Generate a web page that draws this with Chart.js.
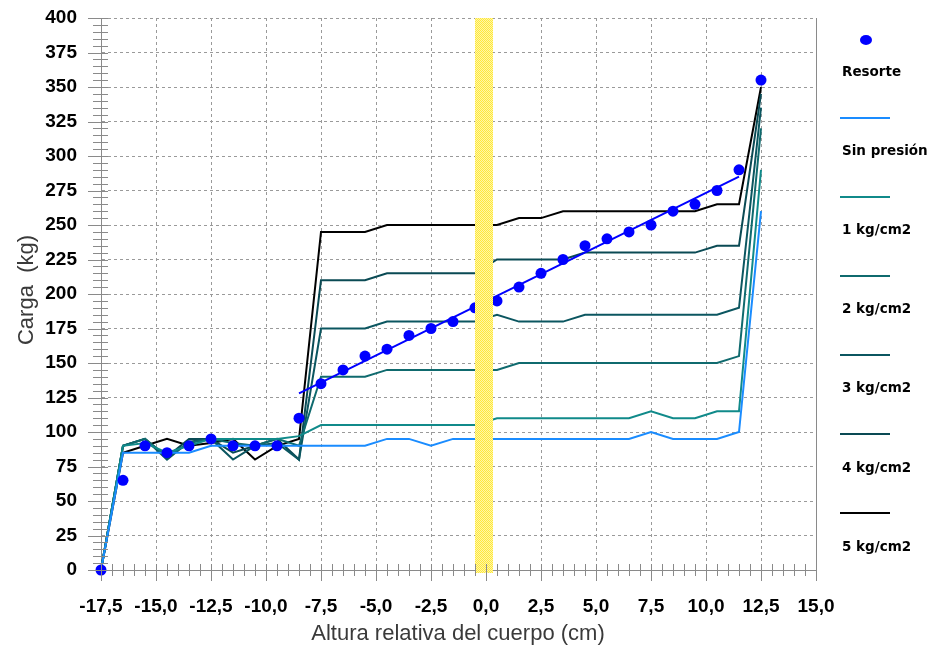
<!DOCTYPE html>
<html>
<head>
<meta charset="utf-8">
<script src="https://cdn.jsdelivr.net/npm/chart.js@4"></script>
<style>
  html, body { margin: 0; padding: 0; background: #fff; }
  #wrap { width: 935px; height: 655px; }
</style>
</head>
<body>
<div id="wrap"><canvas id="load-chart" width="935" height="655"></canvas></div>
<script>
// Altura relativa del cuerpo (cm), one reading per centimetre
const heights = [-17.5, -16.5, -15.5, -14.5, -13.5, -12.5, -11.5, -10.5, -9.5, -8.5,
    -7.5, -6.5, -5.5, -4.5, -3.5, -2.5, -1.5, -0.5, 0.5, 1.5, 2.5,
    3.5, 4.5, 5.5, 6.5, 7.5, 8.5, 9.5, 10.5, 11.5, 12.5]

// Carga (kg)
const resorte = [0, 65, 90, 85, 90, 95, 90, 90, 90, 110,
    135, 145, 155, 160, 170, 175, 180, 190, 195, 205, 215,
    225, 235, 240, 245, 250, 260, 265, 275, 290, 355]
const sinPresion = [0, 85, 85, 85, 85, 90, 90, 90, 90, 90,
    90, 90, 90, 95, 95, 90, 95, 95, 95, 95, 95,
    95, 95, 95, 95, 100, 95, 95, 95, 100, 260]
const kg1 = [0, 90, 92, 85, 90, 95, 95, 95, 95, 97,
    105, 105, 105, 105, 105, 105, 105, 105, 110, 110, 110,
    110, 110, 110, 110, 115, 110, 110, 115, 115, 290]
const kg2 = [0, 90, 95, 82, 92, 95, 92, 90, 95, 90,
    140, 140, 140, 145, 145, 145, 145, 145, 145, 150, 150,
    150, 150, 150, 150, 150, 150, 150, 150, 155, 320]
const kg3 = [0, 90, 95, 80, 93, 95, 80, 90, 92, 80,
    175, 175, 175, 180, 180, 180, 180, 180, 185, 180, 180,
    180, 185, 185, 185, 185, 185, 185, 185, 190, 335]
const kg4 = [0, 90, 95, 82, 95, 95, 85, 90, 95, 80,
    210, 210, 210, 215, 215, 215, 215, 215, 225, 225, 225,
    225, 230, 230, 230, 230, 230, 230, 235, 235, 345]
const kg5 = [0, 85, 90, 95, 90, 92, 95, 80, 90, 95,
    245, 245, 245, 250, 250, 250, 250, 250, 250, 255, 255,
    260, 260, 260, 260, 260, 260, 260, 265, 265, 350]

// straight fit through the spring readings
const fitX = [-8.5, 11.5]
const fitY = [128, 285]

// zero band on the height axis
const bandFrom = -0.5
const bandTo = 0.3

const seriesNames = ['Resorte', 'Sin presión', '1 kg/cm2', '2 kg/cm2', '3 kg/cm2', '4 kg/cm2', '5 kg/cm2']
const seriesColors = ['#0000ff', '#1a8cff', '#108a8a', '#0f6a6e', '#0b5660', '#0a4a54', '#000000']

const axisGray = '#8a8a8a'

function points(xs, ys) {
    return xs.map((x, i) => ({ x: x, y: ys[i] }))
}

function lineSet(label, ys, color) {
    return {
        label: label,
        data: points(heights, ys),
        borderColor: color,
        backgroundColor: color,
        borderWidth: 2,
        pointRadius: 0,
        tension: 0,
        showLine: true,
        clip: 4
    }
}

// checkered yellow fill for the band
function bandPattern() {
    let c = document.createElement('canvas')
    c.width = 2
    c.height = 2
    let g = c.getContext('2d')
    g.fillStyle = '#fff6a8'
    g.fillRect(0, 0, 2, 2)
    g.fillStyle = '#ffe83a'
    g.fillRect(0, 0, 1, 1)
    g.fillRect(1, 1, 1, 1)
    return g.createPattern(c, 'repeat')
}

const decor = {
    id: 'decor',
    afterDatasetsDraw(chart) {
        let ctx = chart.ctx
        let xs = chart.scales.x
        let a = chart.chartArea
        ctx.save()
        ctx.fillStyle = bandPattern()
        let l = Math.round(xs.getPixelForValue(bandFrom))
        let r = Math.round(xs.getPixelForValue(bandTo))
        ctx.fillRect(l, a.top, r - l, a.bottom - a.top + 3)
        ctx.restore()
    },
    afterDraw(chart) {
        let ctx = chart.ctx
        let xs = chart.scales.x
        let ys = chart.scales.y
        let a = chart.chartArea
        ctx.save()
        ctx.strokeStyle = axisGray
        ctx.lineWidth = 1

        // right frame edge
        ctx.beginPath()
        ctx.moveTo(a.right + 0.5, a.top)
        ctx.lineTo(a.right + 0.5, a.bottom + 6)
        ctx.stroke()

        // y ticks every 5 kg, longer at the labels
        ctx.beginPath()
        for (let v = 0; v <= 400; v += 5) {
            let py = Math.round(ys.getPixelForValue(v)) + 0.5
            let major = v % 25 === 0
            ctx.moveTo(a.left - (major ? 13 : 8), py)
            ctx.lineTo(a.left + 7, py)
        }
        // x ticks every 0.5 cm
        for (let i = 0; i <= 65; i++) {
            let v = -17.5 + i * 0.5
            let px = Math.round(xs.getPixelForValue(v)) + 0.5
            let major = i % 5 === 0
            ctx.moveTo(px, a.bottom - 6)
            ctx.lineTo(px, a.bottom + (major ? 11 : 6))
        }
        ctx.stroke()

        // axis titles
        ctx.fillStyle = '#3a3a3a'
        ctx.font = '22px "Liberation Sans", Arial, sans-serif'
        ctx.textAlign = 'center'
        ctx.textBaseline = 'middle'
        ctx.fillText('Altura relativa del cuerpo (cm)', 458, 634)
        ctx.translate(27, 290)
        ctx.rotate(-Math.PI / 2)
        ctx.fillText('Carga  (kg)', 0, 0)
        ctx.restore()

        // legend column on the right
        ctx.save()
        ctx.font = 'bold 13.5px "DejaVu Sans", Verdana, sans-serif'
        ctx.textAlign = 'left'
        ctx.textBaseline = 'middle'
        chart.data.datasets.forEach(ds => {
            if (!ds.inLegend) return
            let k = ds.legendIndex
            let symY = k === 0 ? 40 : 39 + 79 * k
            let textY = 72 + 79.2 * k
            if (k === 0) {
                ctx.fillStyle = ds.backgroundColor
                ctx.beginPath()
                ctx.ellipse(866, symY, 6, 5, 0, 0, Math.PI * 2)
                ctx.fill()
            } else {
                ctx.strokeStyle = ds.borderColor
                ctx.lineWidth = 2
                ctx.beginPath()
                ctx.moveTo(840, symY)
                ctx.lineTo(890, symY)
                ctx.stroke()
            }
            ctx.fillStyle = '#000'
            ctx.fillText(ds.label, 842, textY)
        })
        ctx.restore()
    }
}

function generateChart() {
    let canvas = document.getElementById('load-chart')

    let resorteSet = {
        label: seriesNames[0],
        data: points(heights, resorte),
        showLine: false,
        pointRadius: 5.5,
        pointHoverRadius: 5.5,
        pointBorderWidth: 0,
        backgroundColor: seriesColors[0],
        borderColor: seriesColors[0],
        clip: 8,
        inLegend: true,
        legendIndex: 0
    }
    let fitSet = {
        label: 'ajuste',
        data: points(fitX, fitY),
        showLine: true,
        borderColor: seriesColors[0],
        borderWidth: 2,
        pointRadius: 0,
        tension: 0
    }
    let curves = [sinPresion, kg1, kg2, kg3, kg4, kg5].map((ys, i) => {
        let ds = lineSet(seriesNames[i + 1], ys, seriesColors[i + 1])
        ds.inLegend = true
        ds.legendIndex = i + 1
        return ds
    })

    let tickFont = { family: '"Liberation Sans", Arial, sans-serif', size: 19, weight: 'bold' }
    let noColor = 'rgba(0,0,0,0)'

    new Chart(canvas, {
        type: 'scatter',
        data: {
            datasets: [resorteSet, fitSet].concat(curves)
        },
        options: {
            responsive: false,
            animation: false,
            layout: { padding: { left: 0, top: 18, right: 119, bottom: 0 } },
            scales: {
                x: {
                    type: 'linear',
                    min: -17.5,
                    max: 15,
                    afterFit: scale => { scale.height = 85 },
                    afterBuildTicks: scale => {
                        let t = []
                        for (let v = -17.5; v <= 15.001; v += 2.5) t.push({ value: v })
                        scale.ticks = t
                    },
                    ticks: {
                        color: '#000',
                        font: tickFont,
                        padding: 2,
                        maxRotation: 0,
                        autoSkip: false,
                        callback: v => v.toFixed(1).replace('.', ',')
                    },
                    grid: {
                        drawTicks: true,
                        tickLength: 23,
                        tickColor: noColor,
                        color: c => (c.tick && c.tick.value === -17.5) ? noColor : '#9a9a9a'
                    },
                    border: { display: true, color: axisGray, dash: [3, 3] }
                },
                y: {
                    type: 'linear',
                    min: 0,
                    max: 400,
                    afterFit: scale => { scale.width = 101 },
                    ticks: {
                        stepSize: 25,
                        color: '#000',
                        font: tickFont,
                        padding: 3
                    },
                    grid: {
                        drawTicks: true,
                        tickLength: 21,
                        tickColor: noColor,
                        color: c => (c.tick && c.tick.value === 0) ? noColor : '#9a9a9a'
                    },
                    border: { display: true, color: axisGray, dash: [3, 3] }
                }
            },
            plugins: {
                legend: { display: false },
                tooltip: { enabled: false }
            }
        },
        plugins: [decor]
    })
}

generateChart()
</script>
</body>
</html>
